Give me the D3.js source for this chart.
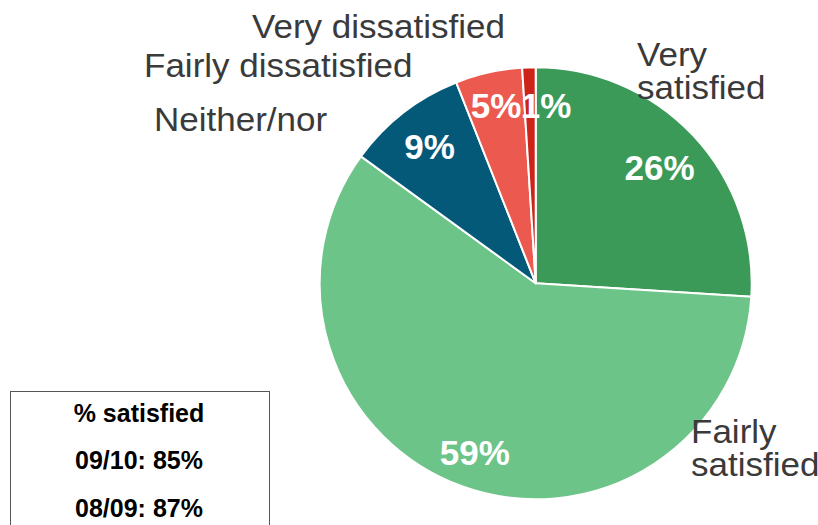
<!DOCTYPE html>
<html>
<head>
<meta charset="utf-8">
<script src="https://cdn.jsdelivr.net/npm/d3@7"></script>
<style>
  html, body { margin: 0; padding: 0; background: #fff; }
  svg { display: block; }
</style>
</head>
<body>
<svg id="chart" width="818" height="525"></svg>
<script>
// ---- data ----
const categories = ["Very satisfied", "Fairly satisfied", "Neither/nor", "Fairly dissatisfied", "Very dissatisfied"];
const values = [26, 59, 9, 5, 1];
const colors = ["#3b9a58", "#6cc488", "#045878", "#ec5a4f", "#cc2418"];
const legendTitle = "% satisfied";
const legendLines = ["09/10: 85%", "08/09: 87%"];

// ---- layout ----
const cx = 535.7, cy = 283.3, R = 216;
const labelRadius = [170, 180, 173, 182, 178];
const labelNudge = [[0, 0], [0, 0], [0, 0], [0, 0], [16, 0]];
const catLabelPos = {
  "Very satisfied": { x: 637, y: 66, lines: ["Very", "satisfied"] },
  "Fairly satisfied": { x: 691, y: 443, lines: ["Fairly", "satisfied"] },
  "Neither/nor": { x: 154, y: 131, lines: ["Neither/nor"] },
  "Fairly dissatisfied": { x: 144, y: 77, lines: ["Fairly dissatisfied"] },
  "Very dissatisfied": { x: 252, y: 38, lines: ["Very dissatisfied"] }
};

const svg = d3.select("#chart");
const data = categories.map((c, i) => ({ cat: c, value: values[i], color: colors[i], idx: i }));

const pie = d3.pie().value(d => d.value).sort(null).startAngle(0).endAngle(2 * Math.PI);
const arcs = pie(data);
const arc = d3.arc().innerRadius(0).outerRadius(R);

const g = svg.append("g").attr("transform", `translate(${cx},${cy})`);
g.selectAll("path.slice").data(arcs).enter().append("path")
  .attr("class", "slice")
  .attr("d", arc)
  .attr("fill", d => d.data.color)
  .attr("stroke", "#fff")
  .attr("stroke-width", 2)
  .attr("stroke-linejoin", "round");

// percentage labels
g.selectAll("text.pct").data(arcs).enter().append("text")
  .attr("class", "pct")
  .attr("transform", d => {
    const r = labelRadius[d.data.idx];
    const c = d3.arc().innerRadius(r).outerRadius(r).centroid(d);
    const n = labelNudge[d.data.idx];
    return `translate(${c[0] + n[0]},${c[1] + n[1]})`;
  })
  .attr("text-anchor", "middle")
  .attr("dy", "0.36em")
  .attr("fill", "#fff")
  .attr("font-family", "Liberation Sans, Arial, Helvetica, sans-serif")
  .attr("font-weight", "bold")
  .attr("font-size", 35)
  .text(d => d.data.value + "%");

// category labels
data.forEach(d => {
  const p = catLabelPos[d.cat];
  const t = svg.append("text")
    .attr("transform", `translate(${p.x},${p.y}) scale(1.03,1)`)
    .attr("fill", "#3a3a3a")
    .attr("font-family", "Liberation Sans, Arial, Helvetica, sans-serif")
    .attr("font-size", 34);
  p.lines.forEach((ln, i) => {
    t.append("tspan").attr("x", 0).attr("dy", i === 0 ? 0 : 33.5).text(ln);
  });
});

// legend box
const box = svg.append("g");
box.append("rect")
  .attr("x", 10.5).attr("y", 391.5)
  .attr("width", 259).attr("height", 150)
  .attr("fill", "#fff")
  .attr("stroke", "#555")
  .attr("stroke-width", 1);
const legendAll = [legendTitle].concat(legendLines);
box.selectAll("text.leg").data(legendAll).enter().append("text")
  .attr("class", "leg")
  .attr("x", 139)
  .attr("y", (d, i) => 422 + i * 47.3)
  .attr("text-anchor", "middle")
  .attr("fill", "#000")
  .attr("font-family", "Liberation Sans, Arial, Helvetica, sans-serif")
  .attr("font-weight", "bold")
  .attr("font-size", 25)
  .text(d => d);
</script>
</body>
</html>
